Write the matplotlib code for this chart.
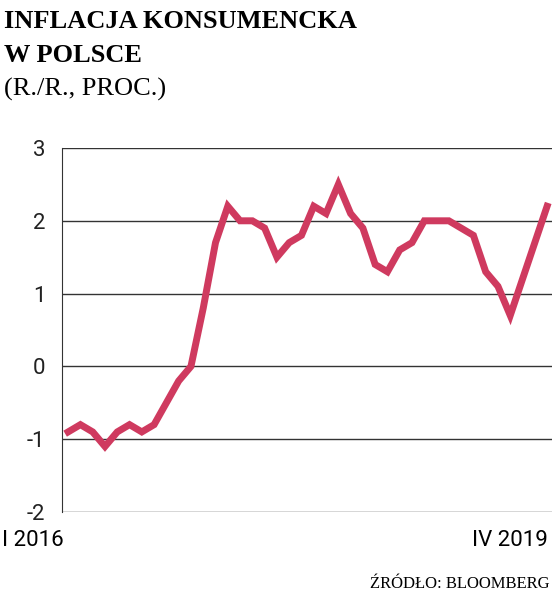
import matplotlib
matplotlib.use("Agg")
import matplotlib.pyplot as plt

values = [-0.9, -0.8, -0.9, -1.1, -0.9, -0.8, -0.9, -0.8, -0.5, -0.2, 0.0, 0.8,
          1.7, 2.2, 2.0, 2.0, 1.9, 1.5, 1.7, 1.8, 2.2, 2.1, 2.5, 2.1,
          1.9, 1.4, 1.3, 1.6, 1.7, 2.0, 2.0, 2.0, 1.9, 1.8, 1.3, 1.1,
          0.7, 1.2, 1.7, 2.2]
yticks = [-2, -1, 0, 1, 2, 3]
xlabels = ["I 2016", "IV 2019"]

fig = plt.figure(figsize=(5.56, 5.93), dpi=100)
ax = fig.add_axes([62/556, 1-512/593, 490/556, 364/593])
x = list(range(len(values)))
ax.plot(x, values, color="#CF3A5F", lw=5, solid_joinstyle="miter", clip_on=False)
ax.set_ylim(-2, 3)
ax.set_xlim(-0.5, len(values) - 0.6)
ax.set_yticks(yticks)
ax.set_yticklabels([str(t) for t in yticks], fontsize=16, family="Roboto", color="#222")
for t in yticks:
    ax.axhline(t, color="#333", lw=1, zorder=0)
for s in ["top", "right", "bottom"]:
    ax.spines[s].set_visible(False)
ax.spines["left"].set_color("#333")
ax.tick_params(axis="y", length=0, pad=12)
ax.set_xticks([])
fig.text(2/556, 1-546/593, xlabels[0], fontsize=16, family="Roboto", va="baseline")
fig.text(548/556, 1-546/593, xlabels[1], fontsize=16, family="Roboto", va="baseline", ha="right")

fig.text(4/556, 1-28/593, "INFLACJA KONSUMENCKA", fontsize=19, family="Liberation Serif",
         weight="bold", va="baseline")
fig.text(4/556, 1-62/593, "W POLSCE", fontsize=19, family="Liberation Serif",
         weight="bold", va="baseline")
fig.text(4/556, 1-96/593, "(R./R., PROC.)", fontsize=19, family="Liberation Serif",
         va="baseline")
fig.text(550/556, 1-588/593, "ŹRÓDŁO: BLOOMBERG", fontsize=12, family="Liberation Serif",
         va="baseline", ha="right")
fig.savefig("out.png", dpi=100, facecolor="white")
